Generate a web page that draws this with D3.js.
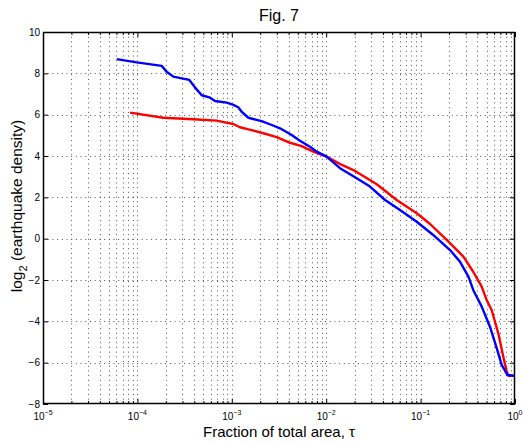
<!DOCTYPE html>
<html>
<head>
<meta charset="utf-8">
<script src="https://cdn.jsdelivr.net/npm/d3@7"></script>
<style>
  html, body { margin: 0; padding: 0; background: #fff; }
  svg { display: block; }
  text { font-family: "Liberation Sans", Arial, Helvetica, sans-serif; fill: #000; }
</style>
</head>
<body>
<svg id="chart" width="523" height="444"></svg>
<script>
// ---- data ----
const blueX = [6.04e-5, 9.84e-5, 1.81e-4, 2.04e-4, 2.40e-4, 3.55e-4, 4.07e-4, 4.80e-4, 5.89e-4, 6.64e-4,
  8.83e-4, 1.04e-3, 1.17e-3, 1.27e-3, 1.50e-3, 2.07e-3, 2.65e-3, 3.24e-3, 4.31e-3, 5.27e-3,
  6.73e-3, 7.94e-3, 1.01e-2, 1.40e-2, 2.02e-2, 2.91e-2, 4.20e-2, 6.05e-2, 9.10e-2, 0.136,
  0.205, 0.261, 0.321, 0.361, 0.409, 0.444, 0.543, 0.640, 0.723, 0.830, 1.0];
const blueY = [8.69, 8.53, 8.36, 8.08, 7.84, 7.68, 7.32, 6.94, 6.82, 6.66,
  6.58, 6.47, 6.36, 6.14, 5.85, 5.69, 5.50, 5.34, 5.02, 4.74,
  4.45, 4.21, 3.97, 3.41, 2.97, 2.52, 1.87, 1.39, 0.82, 0.18,
  -0.55, -1.11, -1.84, -2.48, -2.97, -3.29, -4.26, -5.30, -6.11, -6.59, -6.64];

const redX = [8.36e-5, 1.88e-4, 3.91e-4, 6.92e-4, 8.47e-4, 1.04e-3, 1.22e-3, 1.50e-3, 2.16e-3, 2.99e-3,
  4.14e-3, 5.50e-3, 7.29e-3, 1.01e-2, 1.45e-2, 1.94e-2, 2.47e-2, 3.43e-2, 5.58e-2, 9.10e-2,
  0.126, 0.189, 0.284, 0.361, 0.444, 0.501, 0.566, 0.665, 0.752, 0.817, 0.851, 1.0];
const redY = [6.10, 5.85, 5.78, 5.71, 5.63, 5.55, 5.39, 5.29, 5.10, 4.91,
  4.64, 4.48, 4.21, 3.97, 3.58, 3.32, 3.03, 2.63, 1.87, 1.23,
  0.71, -0.06, -0.87, -1.60, -2.32, -2.97, -3.45, -4.58, -5.71, -6.43, -6.64, -6.64];

const xMajorTicks = [1e-5, 1e-4, 1e-3, 1e-2, 1e-1, 1e0];
const xTickExponents = ["−5", "−4", "−3", "−2", "−1", "0"];
const yTicks = [-8, -6, -4, -2, 0, 2, 4, 6, 8, 10];
const yTickLabels = ["−8", "−6", "−4", "−2", "0", "2", "4", "6", "8", "10"];
const titleText = "Fig. 7";
const xLabelText = "Fraction of total area, τ";

// ---- layout ----
const svg = d3.select("#chart");
const L = 43, R = 515, T = 32, B = 404;
const x = d3.scaleLog().domain([1e-5, 1]).range([L, R]);
const y = d3.scaleLinear().domain([-8, 10]).range([B, T]);

// minor log ticks
const xMinor = [];
for (let e = -5; e < 0; e++) {
  for (let m = 2; m <= 9; m++) xMinor.push(m * Math.pow(10, e));
}

const gridG = svg.append("g");
gridG.selectAll("line.vg").data(xMinor.concat(xMajorTicks.slice(1, -1))).join("line")
  .attr("x1", d => Math.round(x(d)) + 0.5).attr("x2", d => Math.round(x(d)) + 0.5)
  .attr("y1", T).attr("y2", B)
  .attr("stroke", "#555").attr("stroke-width", 1).attr("stroke-dasharray", "1,3.7");
gridG.selectAll("line.hg").data(yTicks.slice(1, -1)).join("line")
  .attr("y1", d => Math.round(y(d)) + 0.5).attr("y2", d => Math.round(y(d)) + 0.5)
  .attr("x1", L).attr("x2", R)
  .attr("stroke", "#555").attr("stroke-width", 1).attr("stroke-dasharray", "1,3.7");

// curves
const line = d3.line().x(d => x(d[0])).y(d => y(d[1]));
svg.append("path").datum(d3.zip(redX, redY)).attr("d", line)
  .attr("fill", "none").attr("stroke", "#ff0000").attr("stroke-width", 2.4)
  .attr("stroke-linejoin", "round");
svg.append("path").datum(d3.zip(blueX, blueY)).attr("d", line)
  .attr("fill", "none").attr("stroke", "#0000ff").attr("stroke-width", 2.4)
  .attr("stroke-linejoin", "round");

// axes (inward ticks)
const axG = svg.append("g");
const bottomAxis = d3.axisBottom(x).tickValues(xMajorTicks).tickSize(-5).tickFormat("");
const topAxis = d3.axisTop(x).tickValues(xMajorTicks).tickSize(-5).tickFormat("");
const bottomMinor = d3.axisBottom(x).tickValues(xMinor).tickSize(-3).tickFormat("");
const topMinor = d3.axisTop(x).tickValues(xMinor).tickSize(-3).tickFormat("");
const leftAxis = d3.axisLeft(y).tickValues(yTicks).tickSize(-5).tickFormat("");
const rightAxis = d3.axisRight(y).tickValues(yTicks).tickSize(-5).tickFormat("");

function styleAxis(g) {
  g.selectAll("path.domain").remove();
  g.selectAll("line").attr("stroke", "#000");
}
axG.append("g").attr("transform", `translate(0,${B})`).call(bottomAxis).call(styleAxis);
axG.append("g").attr("transform", `translate(0,${T})`).call(topAxis).call(styleAxis);
axG.append("g").attr("transform", `translate(0,${B})`).call(bottomMinor).call(styleAxis);
axG.append("g").attr("transform", `translate(0,${T})`).call(topMinor).call(styleAxis);
axG.append("g").attr("transform", `translate(${L},0)`).call(leftAxis).call(styleAxis);
axG.append("g").attr("transform", `translate(${R},0)`).call(rightAxis).call(styleAxis);

// box
svg.append("rect").attr("x", L + 0.5).attr("y", T + 0.5)
  .attr("width", R - L - 1).attr("height", B - T - 1)
  .attr("fill", "none").attr("stroke", "#000").attr("stroke-width", 1.5);

// y tick labels
svg.append("g").selectAll("text").data(yTicks).join("text")
  .attr("x", L - 3).attr("y", d => y(d) + 3.5)
  .attr("text-anchor", "end").attr("font-size", 10)
  .text((d, i) => yTickLabels[i]);

// x tick labels 10^k
const xl = svg.append("g").selectAll("text").data(xMajorTicks).join("text")
  .attr("x", d => x(d)).attr("y", 420)
  .attr("text-anchor", "middle").attr("font-size", 10);
xl.append("tspan").text("10");
xl.append("tspan").attr("font-size", 7).attr("dy", -5).text((d, i) => xTickExponents[i]);

// title
svg.append("text").attr("x", (L + R) / 2).attr("y", 21)
  .attr("text-anchor", "middle").attr("font-size", 16).text(titleText);

// x label
svg.append("text").attr("x", (L + R) / 2).attr("y", 437)
  .attr("text-anchor", "middle").attr("font-size", 15).text(xLabelText);

// y label
const yl = svg.append("text")
  .attr("transform", `translate(22,${(T + B) / 2 - 12}) rotate(-90)`)
  .attr("text-anchor", "middle").attr("font-size", 15.5);
yl.append("tspan").text("log");
yl.append("tspan").attr("font-size", 11).attr("dy", 5).text("2");
yl.append("tspan").attr("dy", -5).text(" (earthquake density)");
</script>
</body>
</html>
